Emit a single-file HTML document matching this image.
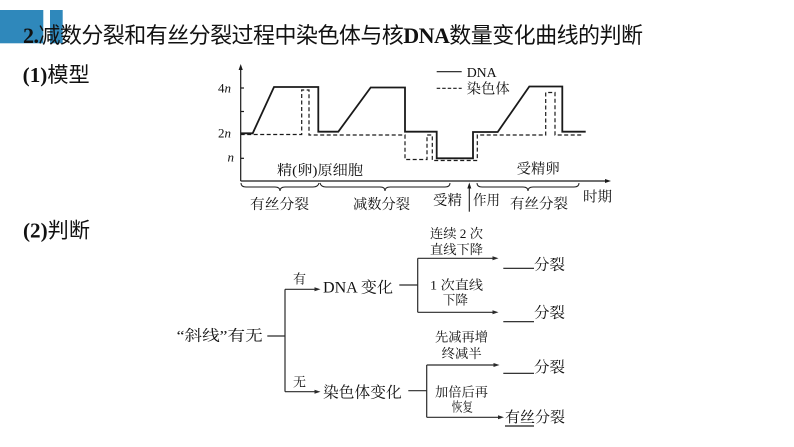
<!DOCTYPE html>
<html>
<head>
<meta charset="utf-8">
<style>
html,body{margin:0;padding:0;background:#fff;}
svg{display:block;}
.serif{font-family:"Liberation Serif","Noto Serif CJK SC",serif;}
.cjk{font-family:"Liberation Serif","Noto Serif CJK SC",serif;}
.sans{font-family:"Liberation Sans","Noto Sans CJK SC",sans-serif;}
</style>
</head>
<body>
<svg width="794" height="447" viewBox="0 0 794 447" xmlns="http://www.w3.org/2000/svg">
<rect x="0" y="0" width="794" height="447" fill="#fff"/>
<!-- blue bars -->
<rect x="0" y="10" width="43.3" height="33.3" fill="#2f88bb"/>
<rect x="50" y="10" width="12.7" height="33.3" fill="#2f88bb"/>

<!-- title -->
<text x="23" y="43" font-size="22" fill="#111" textLength="620" lengthAdjust="spacing"><tspan class="serif" font-weight="bold">2.</tspan><tspan class="sans">减数分裂和有丝分裂过程中染色体与核</tspan><tspan class="serif" font-weight="bold">DNA</tspan><tspan class="sans">数量变化曲线的判断</tspan></text>

<text x="22.7" y="82" font-size="21" fill="#111" textLength="67" lengthAdjust="spacingAndGlyphs"><tspan class="serif" font-weight="bold">(1)</tspan><tspan class="sans">模型</tspan></text>
<text x="23" y="237.5" font-size="21" fill="#111" textLength="67" lengthAdjust="spacingAndGlyphs"><tspan class="serif" font-weight="bold">(2)</tspan><tspan class="sans">判断</tspan></text>

<!-- chart axes -->
<g stroke="#1a1a1a" stroke-width="1.2" fill="none">
  <line x1="240.7" y1="181" x2="240.7" y2="68"/>
  <line x1="240.7" y1="181" x2="607" y2="181"/>
  <line x1="240.7" y1="88" x2="244" y2="88"/>
  <line x1="240.7" y1="111.5" x2="244" y2="111.5"/>
  <line x1="240.7" y1="133.3" x2="244" y2="133.3"/>
  <line x1="240.7" y1="158.3" x2="244" y2="158.3"/>
</g>
<polygon points="240.7,64 238.6,70 242.8,70" fill="#1a1a1a"/>
<polygon points="611,181 605,179 605,183" fill="#1a1a1a"/>

<!-- y labels -->
<g class="serif" font-size="13" fill="#111">
  <text x="218" y="92.5">4<tspan font-style="italic">n</tspan></text>
  <text x="218" y="137.5">2<tspan font-style="italic">n</tspan></text>
  <text x="227.5" y="161.5" font-style="italic">n</text>
</g>

<!-- DNA curve -->
<path d="M240.7,133.3 L252.7,133.3 L274,87 L318.3,87 L318.3,131.7 L338.3,131.7 L370.7,87.5 L405,87.5 L405,131.7 L436.7,131.7 L436.7,158.3 L473,158.3 L473,132 L497.7,132 L529.3,86.5 L562.3,86.5 L562.3,131.7 L585.7,131.7" fill="none" stroke="#1a1a1a" stroke-width="1.8" stroke-linejoin="miter"/>
<!-- chromosome curve -->
<path d="M240.7,134.5 L301.7,134.5 L301.7,90 L309,90 L309,135 L405,135 L405,159.5 L427,159.5 L427,135 L432.3,135 L432.3,160.5 L477.3,160.5 L477.3,135 L545.7,135 L545.7,92.5 L555,92.5 L555,135 L583,135" fill="none" stroke="#1a1a1a" stroke-width="1.2" stroke-dasharray="4,2.5"/>

<!-- legend -->
<line x1="436.7" y1="71.7" x2="461.7" y2="71.7" stroke="#1a1a1a" stroke-width="1.2"/>
<line x1="436.7" y1="88.3" x2="461.7" y2="88.3" stroke="#1a1a1a" stroke-width="1.2" stroke-dasharray="3.5,2"/>
<text class="serif" x="466.7" y="77" font-size="14" fill="#111" textLength="30" lengthAdjust="spacingAndGlyphs">DNA</text>
<text class="cjk" x="466.7" y="93.5" font-size="14" fill="#111" textLength="43" lengthAdjust="spacingAndGlyphs">染色体</text>

<!-- chart labels -->
<g class="cjk" font-size="14" fill="#111">
  <text x="277" y="175" textLength="86" lengthAdjust="spacingAndGlyphs">精(卵)原细胞</text>
  <text x="516.7" y="173.3" textLength="43" lengthAdjust="spacingAndGlyphs">受精卵</text>
  <text x="250" y="209" textLength="59" lengthAdjust="spacingAndGlyphs">有丝分裂</text>
  <text x="353" y="209" textLength="57" lengthAdjust="spacingAndGlyphs">减数分裂</text>
  <text x="433" y="205" textLength="29" lengthAdjust="spacingAndGlyphs">受精</text>
  <text x="473" y="205" textLength="27" lengthAdjust="spacingAndGlyphs">作用</text>
  <text x="510" y="208.3" textLength="58" lengthAdjust="spacingAndGlyphs">有丝分裂</text>
  <text x="583" y="201.7" textLength="29" lengthAdjust="spacingAndGlyphs">时期</text>
</g>

<!-- braces -->
<g fill="none" stroke="#1a1a1a" stroke-width="1">
  <path d="M241,183 Q241,187 246,187 L275,187 Q280,187 280,191 Q280,187 285,187 L313,187 Q318,187 319,183"/>
  <path d="M320,183 Q321,187 326,187 L380,187 Q385,187 385,191 Q385,187 390,187 L445,187 Q450,187 450,183"/>
  <path d="M477,183 Q477,187 482,187 L523,187 Q528,187 528,191 Q528,187 533,187 L574,187 Q579,187 579,183"/>
</g>
<!-- fertilization arrow -->
<line x1="469.3" y1="211.7" x2="469.3" y2="187" stroke="#1a1a1a" stroke-width="1.1"/>
<polygon points="469.3,182.5 467.3,188.5 471.3,188.5" fill="#1a1a1a"/>

<!-- judgement diagram lines -->
<g stroke="#2a2a2a" stroke-width="1.2" fill="none">
  <line x1="267.3" y1="336" x2="285" y2="336"/>
  <line x1="285" y1="289.3" x2="285" y2="391.7"/>
  <line x1="285" y1="289.3" x2="316" y2="289.3"/>
  <line x1="285" y1="391.7" x2="316" y2="391.7"/>
  <line x1="399.3" y1="285" x2="417.7" y2="285"/>
  <line x1="417.7" y1="258.3" x2="417.7" y2="312.3"/>
  <line x1="417.7" y1="258.3" x2="494" y2="258.3"/>
  <line x1="417.7" y1="312.3" x2="494" y2="312.3"/>
  <line x1="408.3" y1="390.7" x2="426.7" y2="390.7"/>
  <line x1="426.7" y1="365" x2="426.7" y2="417.3"/>
  <line x1="426.7" y1="365" x2="495" y2="365"/>
  <line x1="426.7" y1="417.3" x2="500" y2="417.3"/>
</g>
<g fill="#2a2a2a">
  <polygon points="320.5,289.3 314.5,287.3 314.5,291.3"/>
  <polygon points="320.5,391.7 314.5,389.7 314.5,393.7"/>
  <polygon points="498.5,258.3 492.5,256.3 492.5,260.3"/>
  <polygon points="498.5,312.3 492.5,310.3 492.5,314.3"/>
  <polygon points="499.5,365 493.5,363 493.5,367"/>
  <polygon points="504,417.3 498,415.3 498,419.3"/>
</g>
<!-- blanks -->
<g stroke="#1a1a1a" stroke-width="1.2">
  <line x1="503.3" y1="268.3" x2="534" y2="268.3"/>
  <line x1="503.3" y1="321.7" x2="534" y2="321.7"/>
  <line x1="503.3" y1="373.3" x2="534" y2="373.3"/>
  <line x1="505" y1="426" x2="534" y2="426"/>
</g>

<!-- judgement texts -->
<g class="cjk" fill="#111">
  <text x="176.7" y="340.4" font-size="15" textLength="86" lengthAdjust="spacingAndGlyphs">“斜线”有无</text>
  <text x="293" y="283.7" font-size="13" textLength="13" lengthAdjust="spacingAndGlyphs">有</text>
  <text x="293" y="386.4" font-size="13" textLength="13" lengthAdjust="spacingAndGlyphs">无</text>
  <text x="323" y="292.6" font-size="15.5" textLength="70" lengthAdjust="spacingAndGlyphs">DNA 变化</text>
  <text x="323" y="397.3" font-size="15.5" textLength="78.7" lengthAdjust="spacingAndGlyphs">染色体变化</text>
  <text x="430" y="238" font-size="13" textLength="53" lengthAdjust="spacingAndGlyphs">连续 2 次</text>
  <text x="430" y="254" font-size="13" textLength="53" lengthAdjust="spacingAndGlyphs">直线下降</text>
  <text x="430" y="289.7" font-size="13" textLength="53" lengthAdjust="spacingAndGlyphs">1 次直线</text>
  <text x="442.7" y="304.7" font-size="13" textLength="25.3" lengthAdjust="spacingAndGlyphs">下降</text>
  <text x="534" y="269.7" font-size="15" textLength="31" lengthAdjust="spacingAndGlyphs">分裂</text>
  <text x="534" y="317.7" font-size="15" textLength="31" lengthAdjust="spacingAndGlyphs">分裂</text>
  <text x="435" y="341.4" font-size="13" textLength="53" lengthAdjust="spacingAndGlyphs">先减再增</text>
  <text x="441.7" y="358" font-size="13" textLength="40" lengthAdjust="spacingAndGlyphs">终减半</text>
  <text x="435" y="396.4" font-size="13" textLength="53" lengthAdjust="spacingAndGlyphs">加倍后再</text>
  <text x="451.7" y="411.4" font-size="13" textLength="21.3" lengthAdjust="spacingAndGlyphs">恢复</text>
  <text x="534" y="372" font-size="15" textLength="31" lengthAdjust="spacingAndGlyphs">分裂</text>
  <text x="505" y="422" font-size="15" textLength="60" lengthAdjust="spacingAndGlyphs">有丝分裂</text>
</g>
</svg>
</body>
</html>
